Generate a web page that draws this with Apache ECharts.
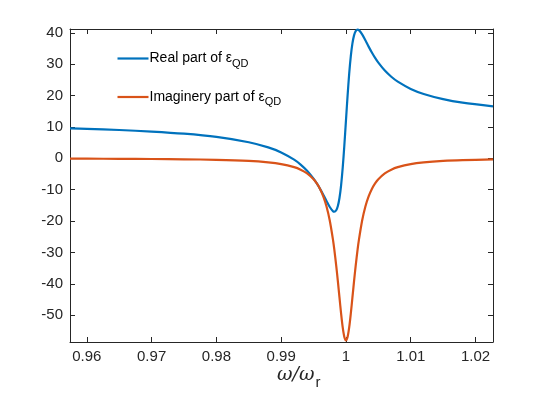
<!DOCTYPE html>
<html>
<head>
<meta charset="utf-8">
<script src="https://cdn.jsdelivr.net/npm/echarts@6/dist/echarts.min.js"></script>
<style>
  html, body {margin:0; padding:0; background:#fff;}
  #box {width:545px; height:394px;}
</style>
</head>
<body>
<div id="box"></div>
<script>
// values
const omega = [0.9574, 0.96, 0.965, 0.97, 0.975, 0.98, 0.985, 0.988, 0.99, 0.992, 0.993, 0.994, 0.995, 0.9955,
    0.996, 0.9965, 0.997, 0.9975, 0.998, 0.9982, 0.9985, 0.99875, 0.999, 0.99925, 0.9995, 0.99975, 1.0,
    1.00025, 1.0005, 1.00075, 1.001, 1.00125, 1.0015, 1.0018, 1.002, 1.0025, 1.003, 1.0035, 1.004, 1.0045,
    1.005, 1.006, 1.007, 1.008, 1.01, 1.012, 1.015, 1.018, 1.0227];
const realPart = [9.55, 9.40, 9.03, 8.53, 7.85, 6.82, 5.14, 3.49, 1.89, -0.42, -1.99, -3.96, -6.48, -8.0,
    -9.71, -11.59, -13.59, -15.50, -16.84, -17.0, -16.52, -15.17, -12.62, -8.59, -2.96, 4.10, 12.0,
    19.90, 26.96, 32.59, 36.62, 39.17, 40.52, 41.0, 40.84, 39.50, 37.59, 35.59, 33.71, 32.0,
    30.48, 27.96, 25.99, 24.42, 22.11, 20.51, 18.86, 17.74, 16.58];
const imagPart = [-0.10, -0.12, -0.15, -0.21, -0.30, -0.47, -0.82, -1.28, -1.82, -2.80, -3.60, -4.79, -6.65, -8.0,
    -9.77, -12.13, -15.35, -19.80, -25.96, -29.0, -34.23, -39.13, -44.32, -49.42, -53.85, -56.90, -58.0,
    -56.90, -53.85, -49.42, -44.32, -39.13, -34.23, -29.0, -25.96, -19.80, -15.35, -12.13, -9.77, -8.0,
    -6.65, -4.79, -3.60, -2.80, -1.82, -1.28, -0.82, -0.57, -0.36];

const xTicks = [0.96, 0.97, 0.98, 0.99, 1.0, 1.01, 1.02];
const yTicks = [-50, -40, -30, -20, -10, 0, 10, 20, 30, 40];
const seriesNames = ['Real part of ε_QD', 'Imaginery part of ε_QD'];

const axisColor = '#262626';
const font = 'Liberation Sans, Arial, sans-serif';
const xMin = 0.9574, xMax = 1.0227, yMin = -58.5, yMax = 41.2;

const pair = (xs, ys) => xs.map((x, i) => [x, ys[i]]);

const makeX = (pos, labels) => ({
    type: 'value', position: pos, min: xMin, max: xMax,
    axisLine: {show: true, onZero: false, lineStyle: {color: axisColor, width: 1}},
    axisTick: {show: true, inside: true, length: 5, customValues: xTicks, lineStyle: {color: axisColor}},
    axisLabel: {show: labels, customValues: xTicks, color: axisColor, fontSize: 15, margin: 7,
        fontFamily: font,
        formatter: v => String(Math.round(v * 100) / 100)},
    splitLine: {show: false}
});
const makeY = (pos, labels) => ({
    type: 'value', position: pos, min: yMin, max: yMax,
    axisLine: {show: true, onZero: false, lineStyle: {color: axisColor, width: 1}},
    axisTick: {show: true, inside: true, length: 5, customValues: yTicks, lineStyle: {color: axisColor}},
    axisLabel: {show: labels, customValues: yTicks, color: axisColor, fontSize: 15, margin: 7,
        fontFamily: font},
    splitLine: {show: false}
});

let chart = echarts.init(document.getElementById('box'));
chart.setOption({
    animation: false,
    color: ['#0072BD', '#D95319'],
    grid: {left: 70, right: 52, top: 29, bottom: 52, containLabel: false},
    legend: {
        orient: 'vertical', left: 117.5, top: 48, itemGap: 17.5, padding: 0,
        icon: 'rect', itemWidth: 31, itemHeight: 2.2,
        formatter: name => {
            let [main, sub] = name.split('_');
            return '{m|' + main + '}{s|' + sub + '}';
        },
        textStyle: {
            color: '#000', padding: [0, 0, 0, -4],
            rich: {
                m: {fontSize: 14, fontFamily: font, color: '#000', lineHeight: 20},
                s: {fontSize: 11, fontFamily: font, color: '#000', lineHeight: 20, padding: [10, 0, 0, 0]}
            }
        },
        data: seriesNames
    },
    xAxis: [makeX('bottom', true), makeX('top', false)],
    yAxis: [makeY('left', true), makeY('right', false)],
    graphic: [{
        type: 'text', left: 277, top: 366,
        style: {
            text: '{w|ω/ω}{r|r}',
            rich: {
                w: {fontSize: 19, fontStyle: 'italic', fontFamily: 'DejaVu Serif, serif', fill: axisColor},
                r: {fontSize: 15, fontFamily: font, fill: axisColor, padding: [15, 0, 0, 1]}
            }
        }
    }],
    series: [
        {name: seriesNames[0], type: 'line', data: pair(omega, realPart), showSymbol: false,
            smooth: 0.3, lineStyle: {width: 2.2}},
        {name: seriesNames[1], type: 'line', data: pair(omega, imagPart), showSymbol: false,
            smooth: 0.3, lineStyle: {width: 2.2}}
    ]
});
</script>
</body>
</html>
